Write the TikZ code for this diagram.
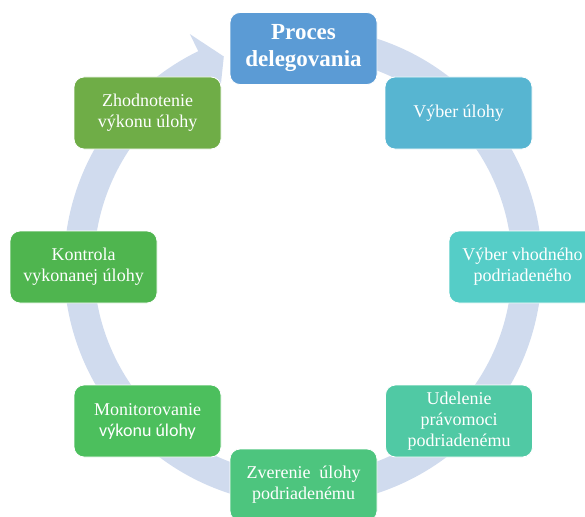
\documentclass[tikz,border=0pt]{standalone}
\usepackage{fontspec}
\setmainfont{Liberation Serif}
\newfontfamily\calibrifont{Carlito}
\definecolor{ringblue}{HTML}{D0DBEE}
\definecolor{stepA}{HTML}{5B9BD5}
\definecolor{stepB}{HTML}{57B5D1}
\definecolor{stepC}{HTML}{55CDC7}
\definecolor{stepD}{HTML}{50C9A4}
\definecolor{stepE}{HTML}{4DC57E}
\definecolor{stepF}{HTML}{4CBF5D}
\definecolor{stepG}{HTML}{4FB54F}
\definecolor{stepH}{HTML}{6FAD47}

\begin{document}
\begin{tikzpicture}[x=1pt,y=1pt]
    \tikzstyle{box}=[rounded corners=10pt,minimum width=147pt,minimum height=72pt,
      draw=white,line width=0.8pt,text=white,align=center,inner sep=2pt,
      font=\fontsize{18}{21}\selectfont]
    \useasboundingbox (0,0) rectangle (585,-516);
    \clip (0,0) rectangle (585,-516);

    % circular arrow behind the boxes
    \begin{scope}[shift={(303,-266)}]
      \fill[ringblue] (80:239) arc[start angle=80,end angle=-244,radius=239]
        -- (-244:258) -- (-249.3:224) -- (-244:190) -- (-244:209)
        arc[start angle=-244,end angle=80,radius=209] -- cycle;
    \end{scope}

    \node[box,fill=stepA,font=\fontsize{23}{27}\selectfont\bfseries] (proces) at (303.5,-48.5) {Proces\\delegovania};
    \node[box,fill=stepB] (vyber) at (458.5,-113) {Výber úlohy};
    \node[box,fill=stepC] (vhodny) at (522.5,-267) {Výber vhodného\\podriadeného};
    \node[box,fill=stepD] (udelenie) at (459,-421) {Udelenie\\právomoci\\podriadenému};
    \node[box,fill=stepE] (zverenie) at (303.5,-485) {Zverenie~ úlohy\\podriadenému};
    \node[box,fill=stepF] (monitor) at (147.5,-421) {Monitorovanie\\{\calibrifont výkonu úlohy}};
    \node[box,fill=stepG] (kontrola) at (83.5,-267) {Kontrola\\vykonanej úlohy};
    \node[box,fill=stepH] (zhodnotenie) at (147.5,-113) {Zhodnotenie\\výkonu úlohy};
\end{tikzpicture}
\end{document}
